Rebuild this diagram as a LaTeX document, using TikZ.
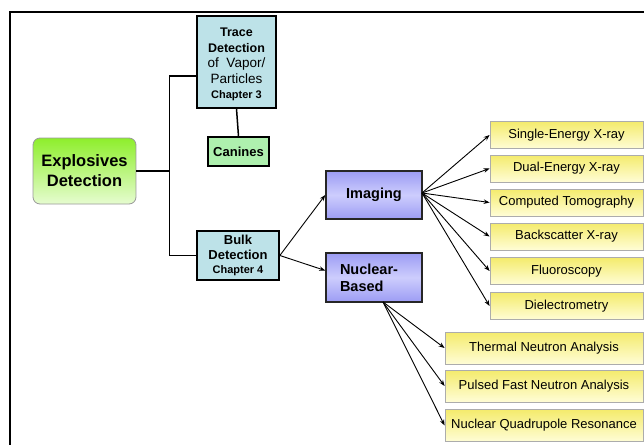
\documentclass[tikz,border=0pt]{standalone}
\usepackage{fontspec}
\setmainfont{Liberation Sans}
\usetikzlibrary{arrows.meta,calc}
\definecolor{tealfill}{HTML}{BDE2E8}
\definecolor{canfill}{HTML}{AEF0AE}
\definecolor{limetop}{HTML}{8EEE2C}
\definecolor{limebot}{HTML}{E6FCD0}
\definecolor{bluetop}{HTML}{9C9CF4}
\definecolor{bluemid}{HTML}{CDCDFD}
\definecolor{yeltop}{HTML}{F4EB6C}
\definecolor{yelbot}{HTML}{FFFDD6}
\begin{document}
\begin{tikzpicture}[x=1pt,y=-1pt,
  base/.style={inner sep=0pt, align=center, text=black},
  expbox/.style={base, draw=gray!80, line width=0.8pt, rounded corners=7pt,
     top color=limetop, bottom color=limebot, minimum width=103pt, minimum height=66pt,
     font=\fontsize{16.5}{20}\selectfont\bfseries},
  tealbox/.style={base, draw=black, line width=1.7pt, fill=tealfill},
  canbox/.style={base, draw=black, line width=1.5pt, fill=canfill,
     minimum width=61pt, minimum height=29pt, font=\fontsize{13}{15}\selectfont\bfseries},
  bluebox/.style={base, draw=black!85, line width=1.5pt, top color=bluetop, bottom color=bluetop,
     middle color=bluemid, minimum width=96pt, minimum height=48pt,
     font=\fontsize{14.5}{17}\selectfont\bfseries},
  ybox/.style={base, draw=gray!65, line width=0.8pt, top color=yeltop, bottom color=yelbot,
     font=\fontsize{13}{15}\selectfont},
  conn/.style={line width=1.5pt},
  arr/.style={line width=0.9pt, -{Stealth[length=6pt,width=4.5pt]}}
]
\useasboundingbox (0,0) rectangle (644,444);
\fill[white] (0,0) rectangle (644,444);
% frame
\draw[line width=2.5pt] (10,446) -- (10,12) -- (646,12);

% nodes
\node[expbox] (exp) at (84.5,171) {Explosives\\Detection};
\node[tealbox, minimum width=79pt, minimum height=92pt,
      font=\fontsize{12.5}{15.5}\selectfont] (trace) at (236.5,62)
  {\rule{0pt}{14pt}\textbf{Trace}\\ \textbf{Detection}\\ {\fontsize{13.5}{15.5}\selectfont of\ \ Vapor/}\\
   {\fontsize{13.5}{15.5}\selectfont Particles}\\ {\fontsize{11}{15.5}\selectfont\bfseries Chapter 3}};
\node[canbox] (can) at (238.5,151.5) {Canines};
\node[tealbox, minimum width=82pt, minimum height=49pt,
      font=\fontsize{13}{14.5}\selectfont\bfseries] (bulk) at (238,255.5)
  {Bulk\\ Detection\\ {\fontsize{11}{14.5}\selectfont\bfseries Chapter 4}};
\node[bluebox] (img) at (374,195) {Imaging};
\node[bluebox, minimum height=49pt, text width=68pt, align=left] (nuc) at (374,277.5) {Nuclear-\\Based};

\node[ybox, minimum width=153pt, minimum height=27pt] (y1) at (566.5,135) {Single-Energy X-ray};
\node[ybox, minimum width=153pt, minimum height=27pt] (y2) at (566.5,168.5) {Dual-Energy X-ray};
\node[ybox, minimum width=153pt, minimum height=27pt] (y3) at (566.5,202.5) {Computed Tomography};
\node[ybox, minimum width=153pt, minimum height=27pt] (y4) at (566.5,236.5) {Backscatter X-ray};
\node[ybox, minimum width=153pt, minimum height=27pt] (y5) at (566.5,271) {Fluoroscopy};
\node[ybox, minimum width=153pt, minimum height=27pt] (y6) at (566.5,306) {Dielectrometry};

\node[ybox, minimum width=198pt, minimum height=32pt] (n1) at (544,348) {Thermal Neutron Analysis};
\node[ybox, minimum width=198pt, minimum height=32pt] (n2) at (544,386) {Pulsed Fast Neutron Analysis};
\node[ybox, minimum width=198pt, minimum height=32pt] (n3) at (544,425.5) {Nuclear Quadrupole Resonance};

% tree connectors
\coordinate (jx) at (169.5,0);
\draw[conn] (exp.east) -- (exp.east -| jx);
\draw[conn] ([yshift=-14pt]trace.west) -| (jx |- bulk.west) -- (bulk.west);
\draw[conn] (trace.south) -- (can.north);

% arrows
\coordinate (imgout) at (422,193);
\coordinate (nucout) at (383,302);
\draw[arr] (bulk.east) -- (img.west);
\draw[arr] (bulk.east) -- ([yshift=7pt]nuc.west);
\foreach \t in {y1,y2,y3,y4,y5,y6} \draw[arr] (imgout) -- (\t.west);
\foreach \t in {n1,n2,n3} \draw[arr] (nucout) -- (\t.west);
\end{tikzpicture}
\end{document}
